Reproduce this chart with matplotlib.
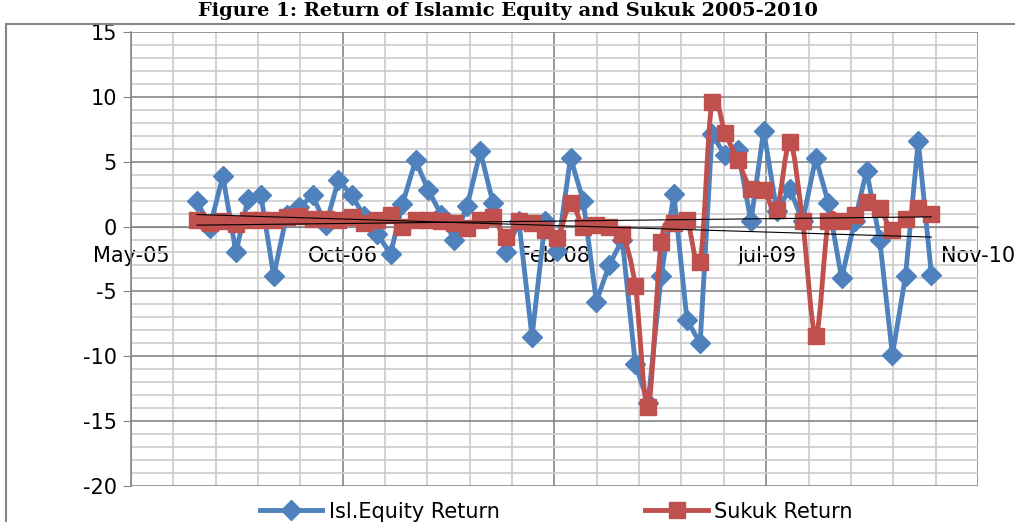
import matplotlib
matplotlib.use('Agg')
import matplotlib.pyplot as plt
import matplotlib.dates as mdates
from matplotlib.patches import Rectangle, PathPatch
from matplotlib.path import Path
from matplotlib.lines import Line2D
import numpy as np
import pandas as pd

# monthly returns, Oct 2005 - Jul 2010
months = pd.date_range('2005-10-31', periods=58, freq='ME')
equity_return = [2.0, -0.1, 3.9, -2.0, 2.1, 2.4, -3.8, 0.9, 1.5, 2.4,
                 0.1, 3.6, 2.4, 0.8, -0.6, -2.1, 1.7, 5.1, 2.8, 0.9,
                 -1.0, 1.6, 5.8, 1.8, -2.0, 0.4, -8.5, 0.4, -1.9, 5.3,
                 2.0, -5.8, -3.0, -1.0, -10.6, -13.6, -3.8, 2.5, -7.2, -9.0,
                 7.1, 5.5, 5.9, 0.4, 7.4, 1.2, 2.9, 0.4, 5.3, 1.8,
                 -4.0, 0.4, 4.3, -1.0, -9.9, -3.8, 6.6, -3.7]
sukuk_return = [0.5, 0.3, 0.4, 0.2, 0.5, 0.5, 0.5, 0.7, 0.8, 0.6,
                0.6, 0.5, 0.7, 0.3, 0.5, 0.9, 0.0, 0.5, 0.5, 0.4,
                0.3, -0.1, 0.5, 0.7, -0.8, 0.4, 0.3, -0.3, -0.9, 1.8,
                0.0, 0.1, 0.0, -0.6, -4.6, -13.9, -1.2, 0.3, 0.5, -2.7,
                9.6, 7.2, 5.1, 2.9, 2.8, 1.3, 6.5, 0.4, -8.4, 0.4,
                0.4, 0.9, 1.9, 1.4, -0.3, 0.6, 1.4, 1.0]

# axis runs in 500 day steps like the excel chart
axis_start = pd.Timestamp('2005-05-28')
major_dates = pd.date_range(axis_start, periods=5, freq='500D')
minor_dates = pd.date_range(axis_start, periods=21, freq='100D')

blue = '#4F81BD'
red = '#C0504D'

plt.rcParams['font.family'] = ['DejaVu Sans']
plt.rcParams['axes.unicode_minus'] = False

fig = plt.figure(figsize=(10.15, 5.22), dpi=100)
ax = fig.add_axes([0.129, 0.069, 0.8345, 0.8698])

x = mdates.date2num(months)
ax.plot(x, equity_return, color=blue, lw=3.5, marker='D', markersize=10, zorder=3)

# sukuk series uses excel style smoothed line (bezier through the points)
xs = np.asarray(x)
ys = np.asarray(sukuk_return)
n = len(xs)
verts = [(xs[0], ys[0])]
codes = [Path.MOVETO]
for i in range(n - 1):
    a = max(i - 1, 0)
    d = min(i + 2, n - 1)
    c1 = (xs[i] + (xs[i + 1] - xs[a]) / 6, ys[i] + (ys[i + 1] - ys[a]) / 6)
    c2 = (xs[i + 1] - (xs[d] - xs[i]) / 6, ys[i + 1] - (ys[d] - ys[i]) / 6)
    verts += [c1, c2, (xs[i + 1], ys[i + 1])]
    codes += [Path.CURVE4] * 3
ax.add_patch(PathPatch(Path(verts, codes), fill=False, edgecolor=red, lw=3.5,
                       joinstyle='round', zorder=4))
ax.plot(x, sukuk_return, color=red, ls='none', marker='s', markersize=12, zorder=4)

# linear trend lines
for series in (equity_return, sukuk_return):
    k, b = np.polyfit(x, series, 1)
    ax.plot([x[0], x[-1]], [k * x[0] + b, k * x[-1] + b], color='black', lw=0.8, zorder=5)

ax.set_xlim(mdates.date2num(major_dates[0]), mdates.date2num(major_dates[-1]))
ax.set_ylim(-20, 15)
ax.set_xticks(mdates.date2num(major_dates))
ax.set_xticks(mdates.date2num(minor_dates), minor=True)
ax.xaxis.set_major_formatter(mdates.DateFormatter('%b-%y'))
ax.set_yticks(np.arange(-20, 16, 5))
ax.set_yticks(np.arange(-20, 16, 1), minor=True)

ax.grid(which='major', color='#868686', lw=1.2, zorder=0)
ax.grid(which='minor', color='#cccccc', lw=1.2, zorder=0)
ax.set_axisbelow(True)

for s in ['top', 'right']:
    ax.spines[s].set_visible(False)
ax.spines['bottom'].set_position(('data', 0))
ax.spines['bottom'].set_color('#868686')
ax.spines['left'].set_color('#868686')
ax.spines['left'].set_linewidth(1.2)
ax.tick_params(axis='x', which='both', length=0, pad=14, labelsize=15)
ax.tick_params(axis='y', which='major', length=6, color='#868686', pad=4, labelsize=15)
ax.tick_params(axis='y', which='minor', length=0)

handles = [Line2D([], [], color=blue, lw=3.5, marker='D', markersize=10),
           Line2D([], [], color=red, lw=3.5, marker='s', markersize=12)]
fig.legend(handles, ['Isl.Equity Return', 'Sukuk Return'], loc='center',
           bbox_to_anchor=(0.548, 0.02), ncol=2, frameon=False,
           fontsize=15, handlelength=3, columnspacing=7, handletextpad=0.3)

fig.text(0.5, 0.97, 'Figure 1: Return of Islamic Equity and Sukuk 2005-2010',
         ha='center', va='baseline', fontsize=14, fontweight='bold',
         family='DejaVu Serif')

fig.patches.append(Rectangle((0.006, -0.1), 1.2, 1.054, transform=fig.transFigure,
                             fill=False, edgecolor='#868686', lw=1.5))

fig.savefig('out.png', dpi=100)
